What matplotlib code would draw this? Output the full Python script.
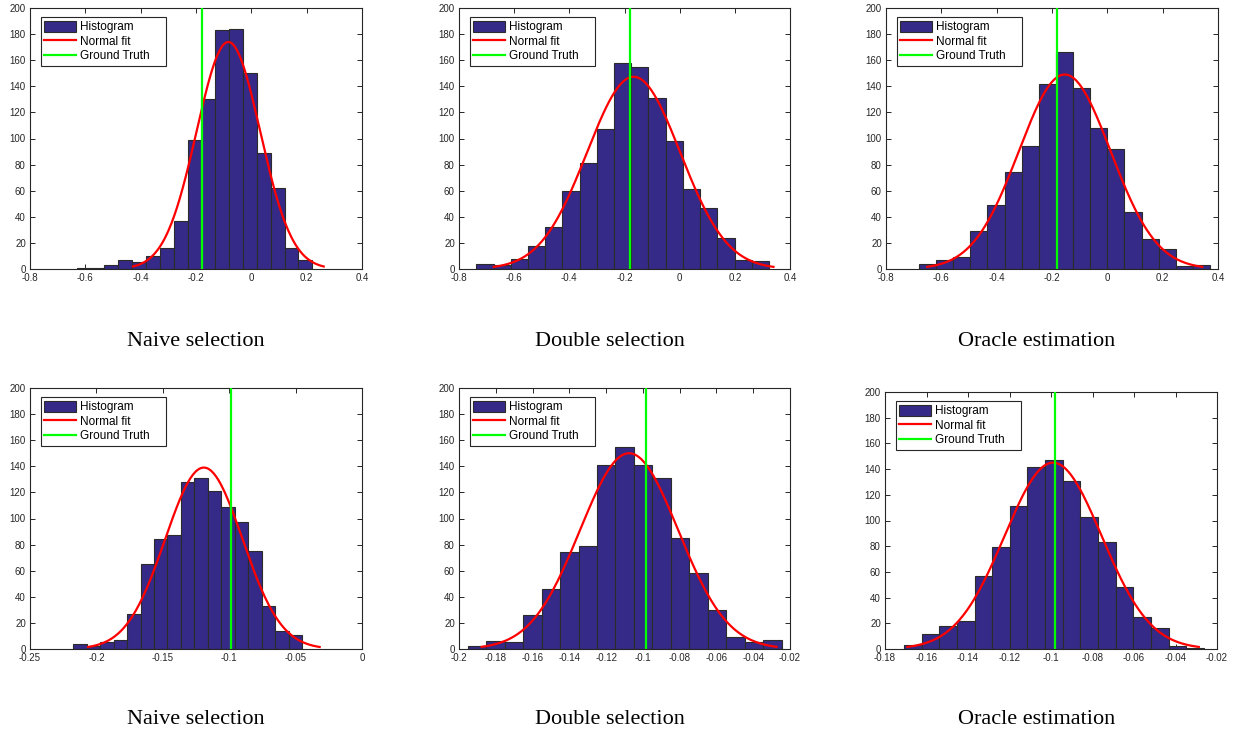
import numpy as np
import matplotlib
matplotlib.use("Agg")
import matplotlib.pyplot as plt
from matplotlib.ticker import FuncFormatter

plt.rcParams['font.family'] = ['Liberation Sans', 'DejaVu Sans']
plt.rcParams['axes.unicode_minus'] = False

titles = ["Naive selection", "Double selection", "Oracle estimation"]

# histogram counts (17 bins each), first bin edge and bin width
counts_naive_1 = [1, 1, 3, 7, 5, 10, 16, 37, 99, 130, 183, 184, 150, 89, 62, 16, 7]
counts_double_1 = [4, 3, 8, 18, 32, 60, 81, 107, 158, 155, 131, 98, 61, 47, 24, 7, 6]
counts_oracle_1 = [4, 7, 9, 29, 49, 74, 94, 142, 166, 139, 108, 92, 44, 23, 15, 2, 3]
counts_naive_2 = [4, 2, 5, 7, 27, 65, 84, 87, 128, 131, 121, 109, 97, 75, 33, 14, 11]
counts_double_2 = [2, 6, 5, 26, 46, 74, 79, 141, 155, 141, 131, 85, 58, 30, 9, 5, 7]
counts_oracle_2 = [3, 12, 18, 22, 57, 79, 111, 142, 147, 131, 103, 83, 48, 25, 16, 2, 1]

bin_start = [-0.6315, -0.737, -0.681, -0.2174, -0.1953, -0.1709]
bin_width = [0.0501, 0.0624, 0.0619, 0.01013, 0.01005, 0.00851]

# normal fit parameters and ground truth
fit_mu = [-0.083, -0.167, -0.154, -0.1191, -0.1075, -0.0990]
fit_sigma = [0.1149, 0.169, 0.1657, 0.02907, 0.02673, 0.02341]
ground_truth = [-0.180, -0.181, -0.181, -0.0983, -0.0982, -0.098]

x_limits = [(-0.8, 0.4), (-0.8, 0.4), (-0.8, 0.4), (-0.25, 0), (-0.2, -0.02), (-0.18, -0.02)]
x_steps = [0.2, 0.2, 0.2, 0.05, 0.02, 0.02]

all_counts = [counts_naive_1, counts_double_1, counts_oracle_1,
              counts_naive_2, counts_double_2, counts_oracle_2]

W, H = 1239, 734
# axes boxes in pixels: left, top, right, bottom
boxes = [(30, 8, 362, 269), (459, 8, 790, 269), (886, 8, 1218, 269),
         (30, 388, 362, 649), (459, 388, 790, 649), (885, 392, 1217, 649)]

fig = plt.figure(figsize=(W / 100, H / 100), dpi=100)

bar_color = '#352A87'

for i in range(6):
    l, t, r, b = boxes[i]
    ax = fig.add_axes([l / W, 1 - b / H, (r - l) / W, (b - t) / H])
    counts = np.array(all_counts[i])
    edges = bin_start[i] + bin_width[i] * np.arange(len(counts))
    h_bar = ax.bar(edges, counts, width=bin_width[i], align='edge', color=bar_color,
                   edgecolor='#2b2b2b', linewidth=0.8, zorder=2)

    mu, sd = fit_mu[i], fit_sigma[i]
    xs = np.linspace(mu - 3 * sd, mu + 3 * sd, 200)
    ys = counts.sum() * bin_width[i] * np.exp(-0.5 * ((xs - mu) / sd) ** 2) / (sd * np.sqrt(2 * np.pi))
    h_fit, = ax.plot(xs, ys, color='#FF0000', lw=1.6, zorder=3)
    h_gt, = ax.plot([ground_truth[i]] * 2, [0, 200], color='#00FF00', lw=1.6, zorder=4)

    lo, hi = x_limits[i]
    ax.set_xlim(lo, hi)
    ax.set_ylim(0, 200)
    ax.set_xticks(np.round(np.arange(lo, hi + x_steps[i] / 2, x_steps[i]), 4))
    ax.set_yticks(np.arange(0, 201, 20))
    ax.xaxis.set_major_formatter(FuncFormatter(lambda v, p: "0" if abs(v) < 1e-9 else f"{v:g}"))
    ax.tick_params(direction='in', top=True, right=True, length=3.5, width=0.7,
                   labelsize=7, colors='#262626', pad=3)
    for s in ax.spines.values():
        s.set_color('#262626')
        s.set_linewidth(0.8)

    leg = ax.legend([h_bar, h_fit, h_gt], ['Histogram', 'Normal fit', 'Ground Truth    '],
                    loc='upper left', bbox_to_anchor=(0.032, 0.964), borderaxespad=0,
                    fontsize=8.5, handlelength=2.7, handleheight=1.05, handletextpad=0.3,
                    labelspacing=0.17, borderpad=0.3, fancybox=False, framealpha=1)
    leg.get_frame().set_edgecolor('#262626')
    leg.get_frame().set_linewidth(0.8)

    fig.text([196, 610, 1037][i % 3] / W, 1 - [341, 719][i // 3] / H, titles[i % 3],
             ha='center', va='center', fontsize=16, family='Liberation Serif')

fig.savefig("out.png", dpi=100)
